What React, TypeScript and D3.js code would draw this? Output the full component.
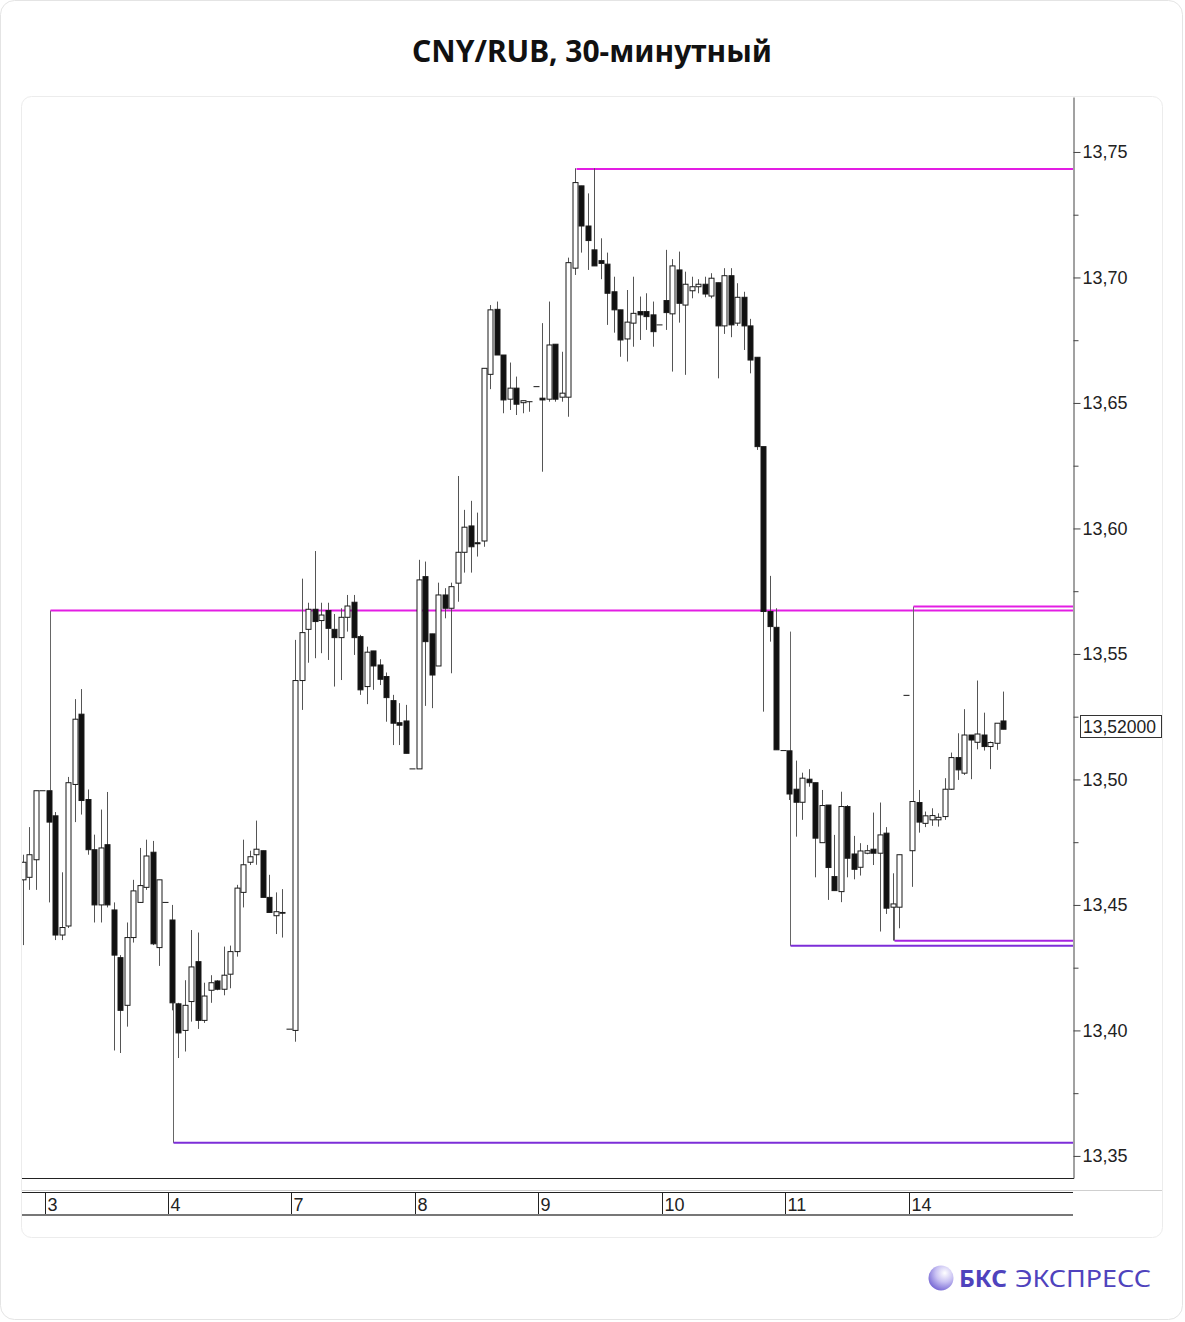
import React, { useEffect, useRef } from 'react';
import * as d3 from 'd3';

// 30-min bars, index 0 = last bars of the previous session
const opens = [
  13.460, 13.461, 13.468, 13.4955, 13.4955, 13.4855, 13.438, 13.4416, 13.498, 13.526,
  13.492, 13.472, 13.450, 13.474, 13.448, 13.429, 13.410, 13.437, 13.451, 13.457,
  13.471, 13.433, 13.451, 13.444, 13.4106, 13.400, 13.4115, 13.4274, 13.404, 13.416,
  13.4197, 13.4164, 13.4224, 13.4314, 13.455, 13.467, 13.470, 13.4716, 13.453, 13.4457,
  13.447, 13.4005, 13.400, 13.5394, 13.5598, 13.5678, 13.5633, 13.5673, 13.5598, 13.5565,
  13.5646, 13.5706, 13.5569, 13.537, 13.5512, 13.5456, 13.541, 13.5314, 13.5226, 13.5233,
  13.5042, 13.5042, 13.5808, 13.558, 13.5452, 13.5735, 13.5682, 13.5782, 13.5905, 13.601,
  13.5943, 13.595, 13.6614, 13.6873, 13.6691, 13.6515, 13.6559, 13.6501, 13.6505, 13.6565,
  13.6519, 13.6515, 13.6734, 13.6523, 13.6523, 13.7037, 13.7365, 13.7205, 13.711, 13.7067,
  13.7053, 13.6943, 13.6871, 13.6755, 13.6818, 13.6864, 13.6864, 13.6851, 13.6811, 13.6908,
  13.6855, 13.703, 13.689, 13.6947, 13.6963, 13.6973, 13.6926, 13.6979, 13.6807, 13.7007,
  13.6818, 13.6921, 13.6807, 13.6682, 13.6326, 13.5669, 13.5606, 13.5115, 13.5114, 13.4961,
  13.4909, 13.5001, 13.4987, 13.4748, 13.4898, 13.4613, 13.4553, 13.4892, 13.4703, 13.465,
  13.4706, 13.4722, 13.4706, 13.4786, 13.4491, 13.4491, 13.5335, 13.4716, 13.4908, 13.4825,
  13.4839, 13.4839, 13.4852, 13.4961, 13.5087, 13.5025, 13.5177, 13.5148, 13.5177, 13.5131,
  13.5144, 13.5233,
];
const highs = [
  13.470, 13.481, 13.4955, 13.4955, 13.4955, 13.487, 13.463, 13.501, 13.532, 13.536,
  13.496, 13.478, 13.488, 13.495, 13.451, 13.430, 13.443, 13.460, 13.4727, 13.476,
  13.4755, 13.460, 13.451, 13.450, 13.411, 13.420, 13.440, 13.439, 13.419, 13.422,
  13.420, 13.4334, 13.4338, 13.458, 13.476, 13.4716, 13.4836, 13.4716, 13.462, 13.455,
  13.4563, 13.4005, 13.5556, 13.580, 13.5704, 13.591, 13.5704, 13.5704, 13.5659, 13.5682,
  13.5735, 13.5735, 13.5576, 13.5529, 13.5512, 13.5479, 13.5426, 13.5337, 13.5304, 13.5297,
  13.5042, 13.5875, 13.5868, 13.558, 13.5784, 13.5762, 13.5784, 13.6209, 13.6074, 13.611,
  13.6063, 13.6638, 13.689, 13.6904, 13.6691, 13.6661, 13.6605, 13.6509, 13.6505, 13.6565,
  13.6818, 13.6904, 13.6734, 13.6704, 13.7079, 13.7435, 13.7365, 13.7335, 13.7435, 13.7156,
  13.7099, 13.7003, 13.6871, 13.695, 13.7003, 13.6924, 13.6937, 13.6904, 13.6811, 13.711,
  13.7073, 13.7103, 13.7023, 13.7003, 13.6993, 13.7003, 13.7017, 13.6979, 13.7037, 13.7037,
  13.6977, 13.6943, 13.6835, 13.6682, 13.6326, 13.5811, 13.5682, 13.5115, 13.5114, 13.5075,
  13.5027, 13.5041, 13.4987, 13.4958, 13.4898, 13.4779, 13.4951, 13.4898, 13.4775, 13.4746,
  13.4739, 13.4868, 13.4908, 13.481, 13.4626, 13.470, 13.5335, 13.4912, 13.4958, 13.4872,
  13.4885, 13.4865, 13.5005, 13.5107, 13.5184, 13.528, 13.5177, 13.5394, 13.5266, 13.5151,
  13.5224, 13.535,
];
const lows = [
  13.434, 13.456, 13.456, 13.4955, 13.451, 13.436, 13.436, 13.4408, 13.483, 13.486,
  13.470, 13.443, 13.443, 13.449, 13.392, 13.391, 13.4015, 13.435, 13.4508, 13.456,
  13.434, 13.4257, 13.451, 13.408, 13.389, 13.3916, 13.4035, 13.4006, 13.403, 13.411,
  13.416, 13.414, 13.4168, 13.4294, 13.449, 13.4659, 13.466, 13.453, 13.447, 13.4384,
  13.437, 13.4005, 13.3955, 13.5277, 13.5465, 13.5483, 13.5503, 13.5476, 13.537, 13.5396,
  13.5589, 13.5496, 13.5337, 13.530, 13.5357, 13.5376, 13.523, 13.5137, 13.5137, 13.5104,
  13.5042, 13.5042, 13.5293, 13.5284, 13.5452, 13.5642, 13.5423, 13.5708, 13.5824, 13.5824,
  13.5888, 13.5927, 13.6555, 13.6691, 13.6459, 13.6472, 13.6452, 13.6459, 13.6465, 13.6565,
  13.6226, 13.6505, 13.6505, 13.6505, 13.6445, 13.701, 13.7099, 13.703, 13.7046, 13.6993,
  13.6811, 13.678, 13.6684, 13.6665, 13.6724, 13.6751, 13.6791, 13.6724, 13.6811, 13.6791,
  13.6625, 13.682, 13.6612, 13.6917, 13.6937, 13.6921, 13.6917, 13.6598, 13.6775, 13.6762,
  13.6807, 13.6711, 13.6618, 13.6313, 13.527, 13.5549, 13.5118, 13.5115, 13.4918, 13.4772,
  13.4839, 13.4971, 13.461, 13.4748, 13.452, 13.4557, 13.4511, 13.461, 13.4602, 13.4617,
  13.4702, 13.4659, 13.4394, 13.4464, 13.4358, 13.4407, 13.5335, 13.4572, 13.4788, 13.481,
  13.4815, 13.4812, 13.4839, 13.4958, 13.4998, 13.5018, 13.5001, 13.512, 13.5115, 13.5041,
  13.5118, 13.520,
];
const closes = [
  13.467, 13.470, 13.4955, 13.4955, 13.483, 13.438, 13.441, 13.4987, 13.524, 13.4916,
  13.472, 13.450, 13.4727, 13.450, 13.430, 13.408, 13.437, 13.4556, 13.4577, 13.4695,
  13.4345, 13.460, 13.451, 13.411, 13.399, 13.410, 13.4253, 13.404, 13.4137, 13.419,
  13.4164, 13.422, 13.4314, 13.4567, 13.466, 13.4692, 13.4722, 13.453, 13.447, 13.4473,
  13.4467, 13.4005, 13.5394, 13.5585, 13.5678, 13.5629, 13.5655, 13.5602, 13.5565, 13.5646,
  13.5691, 13.5565, 13.5357, 13.5507, 13.5452, 13.5399, 13.5326, 13.5224, 13.5216, 13.5104,
  13.5042, 13.5795, 13.5549, 13.5416, 13.5735, 13.5682, 13.5768, 13.5905, 13.6005, 13.5927,
  13.5939, 13.6638, 13.6871, 13.6691, 13.6512, 13.6559, 13.6495, 13.6509, 13.6505, 13.6565,
  13.6512, 13.6731, 13.6515, 13.6539, 13.7059, 13.7378, 13.7205, 13.7147, 13.7046, 13.7056,
  13.6937, 13.6871, 13.6751, 13.6822, 13.6857, 13.6851, 13.6844, 13.6784, 13.6811, 13.686,
  13.7046, 13.6897, 13.6973, 13.6963, 13.6973, 13.6934, 13.6997, 13.6807, 13.7007, 13.6811,
  13.6921, 13.6807, 13.6671, 13.6326, 13.5669, 13.5609, 13.5118, 13.5115, 13.4942, 13.4909,
  13.5005, 13.4987, 13.4766, 13.4896, 13.4649, 13.4557, 13.4892, 13.4686, 13.4642, 13.4715,
  13.4716, 13.4706, 13.4779, 13.4487, 13.4504, 13.470, 13.5335, 13.4912, 13.483, 13.4855,
  13.4856, 13.4849, 13.4961, 13.5087, 13.5038, 13.5177, 13.5157, 13.5181, 13.5131, 13.5147,
  13.5224, 13.520,
];

// sessions: label and index of the opening bar
const dayLabels = ['3', '4', '7', '8', '9', '10', '11', '14'];
const dayFirstBar = [3, 22, 41, 60, 79, 98, 117, 136];

// horizontal levels drawn on the chart
const levelPrice = [13.7432, 13.5673, 13.5689, 13.3552, 13.4337, 13.4357];
const levelFromBar = [85, 4, 137, 23, 118, 134];
const levelAnchor = [13.7432, 13.4955, 13.4912, 13.411, 13.5589, 13.450];
const levelKind = ['high', 'high', 'high', 'low', 'low', 'low2'];

const majorTicks = [13.35, 13.40, 13.45, 13.50, 13.55, 13.60, 13.65, 13.70, 13.75];
const minorTicks = [13.375, 13.425, 13.475, 13.525, 13.575, 13.625, 13.675, 13.725];
const lastPrice = 13.52;

const W = 1185;
const H = 1322;

export default function App() {
  const svgRef = useRef<SVGSVGElement | null>(null);

  useEffect(() => {
    document.body.style.margin = '0';
    const svg = d3.select(svgRef.current);
    svg.selectAll('*').remove();

    const left = 22, right = 1073, top = 97, bottom = 1178;
    const locale = d3.formatLocale({ decimal: ',', thousands: ' ', grouping: [3], currency: ['', ''] });
    const fmt2 = locale.format('.2f');
    const fmt5 = locale.format('.5f');

    const x = d3.scaleLinear().domain([-0.092, 161.72]).range([left, right]);
    const y = d3.scaleLinear().domain([13.3412, 13.7719]).range([bottom, top]);

    // card + panel
    svg.append('rect')
      .attr('x', 0.5).attr('y', 0.5).attr('width', 1182).attr('height', 1319)
      .attr('rx', 14).attr('fill', '#fff').attr('stroke', '#e4e4e4');
    svg.append('rect')
      .attr('x', 21.5).attr('y', 96.5).attr('width', 1141).attr('height', 1141)
      .attr('rx', 10).attr('fill', '#fff').attr('stroke', '#ececec');

    svg.append('text')
      .attr('x', 592).attr('y', 62)
      .attr('text-anchor', 'middle')
      .style('font-family', '"Noto Sans", "Open Sans", sans-serif')
      .style('font-size', '30px')
      .style('font-weight', 700)
      .style('fill', '#111')
      .text('CNY/RUB, 30-минутный');

    svg.append('clipPath').attr('id', 'plotClip')
      .append('rect').attr('x', left).attr('y', top).attr('width', right - left).attr('height', bottom - top);

    const plot = svg.append('g').attr('clip-path', 'url(#plotClip)');

    const bars = d3.range(opens.length).map(i => ({
      i, o: opens[i], h: Math.max(highs[i], opens[i], closes[i]),
      l: Math.min(lows[i], opens[i], closes[i]), c: closes[i],
    }));

    const cx = (i: number) => Math.round(x(i)) + 0.5;

    // levels
    const levelColor: Record<string, string> = { high: '#e31de3', low: '#7d2ed8', low2: '#a523e0' };
    levelPrice.forEach((p, k) => {
      const x0 = cx(levelFromBar[k]) + 1;
      plot.append('line')
        .attr('x1', x0).attr('x2', x0)
        .attr('y1', y(p)).attr('y2', y(levelAnchor[k]))
        .attr('stroke', '#666').attr('stroke-width', 1);
      plot.append('line')
        .attr('x1', x0).attr('x2', right)
        .attr('y1', y(p)).attr('y2', y(p))
        .attr('stroke', levelColor[levelKind[k]]).attr('stroke-width', 2);
    });

    // wicks
    plot.selectAll('.wick')
      .data(bars.filter(d => d.h !== d.l))
      .join('line')
      .attr('class', 'wick')
      .attr('x1', d => cx(d.i)).attr('x2', d => cx(d.i))
      .attr('y1', d => y(d.h)).attr('y2', d => y(d.l))
      .attr('stroke', '#555').attr('stroke-width', 1);

    // bodies
    plot.selectAll('.body')
      .data(bars)
      .join('rect')
      .attr('class', 'body')
      .attr('x', d => cx(d.i) - 2.5)
      .attr('width', 5)
      .attr('y', d => y(Math.max(d.o, d.c)))
      .attr('height', d => Math.max(0.01, Math.abs(y(d.o) - y(d.c))))
      .attr('fill', d => (d.c >= d.o ? '#fff' : '#111'))
      .attr('stroke', '#1a1a1a')
      .attr('stroke-width', 1);

    // frame
    svg.append('line').attr('x1', left).attr('x2', right + 1).attr('y1', bottom + 0.5).attr('y2', bottom + 0.5)
      .attr('stroke', '#222');

    // price axis
    const axis = svg.append('g')
      .attr('transform', `translate(${right + 0.5},0)`)
      .call(d3.axisRight(y).tickValues(majorTicks).tickSize(7).tickSizeOuter(0).tickPadding(2)
        .tickFormat(d => fmt2(d as number)));
    axis.select('.domain').attr('stroke', '#444');
    axis.selectAll('.tick line').attr('stroke', '#444');
    axis.selectAll('.tick text')
      .style('font-family', '"Liberation Sans", Arial, sans-serif')
      .style('font-size', '18px')
      .style('fill', '#222');

    svg.append('g')
      .attr('transform', `translate(${right + 0.5},0)`)
      .call(d3.axisRight(y).tickValues(minorTicks).tickSize(5).tickSizeOuter(0).tickFormat(() => ''))
      .call(g => g.select('.domain').remove())
      .call(g => g.selectAll('.tick line').attr('stroke', '#444'));

    const ly = Math.round(y(lastPrice)) - 3;
    svg.append('rect')
      .attr('x', 1080.5).attr('y', ly - 10.5).attr('width', 81).attr('height', 22)
      .attr('fill', '#fff').attr('stroke', '#333');
    svg.append('text')
      .attr('x', 1083).attr('y', ly + 6.5)
      .style('font-family', '"Liberation Sans", Arial, sans-serif')
      .style('font-size', '17.5px')
      .style('fill', '#222')
      .text(fmt5(lastPrice));

    // date strip
    svg.append('line').attr('x1', left).attr('x2', 1162).attr('y1', 1190.5).attr('y2', 1190.5)
      .attr('stroke', '#cfcfcf');
    svg.append('line').attr('x1', left).attr('x2', right).attr('y1', 1192.5).attr('y2', 1192.5)
      .attr('stroke', '#222');
    svg.append('line').attr('x1', left).attr('x2', right).attr('y1', 1215).attr('y2', 1215)
      .attr('stroke', '#777').attr('stroke-width', 2);

    const days = svg.append('g');
    dayFirstBar.forEach((b, k) => {
      const dx = Math.round(x(b + 0.4)) + 0.5;
      days.append('line').attr('x1', dx).attr('x2', dx).attr('y1', 1193).attr('y2', 1214)
        .attr('stroke', '#222');
      days.append('text')
        .attr('x', dx + 2).attr('y', 1211)
        .style('font-family', '"Liberation Sans Narrow", "Arial Narrow", "Liberation Sans", sans-serif')
        .style('font-size', '18px')
        .style('fill', '#222')
        .text(dayLabels[k]);
    });

    // logo
    const defs = svg.append('defs');
    const grad = defs.append('radialGradient').attr('id', 'logoGrad')
      .attr('cx', '0.65').attr('cy', '0.3').attr('r', '0.8');
    grad.append('stop').attr('offset', '0%').attr('stop-color', '#ffffff');
    grad.append('stop').attr('offset', '45%').attr('stop-color', '#c9c2f3');
    grad.append('stop').attr('offset', '100%').attr('stop-color', '#6b5bd0');
    svg.append('circle').attr('cx', 941).attr('cy', 1278).attr('r', 12.5).attr('fill', 'url(#logoGrad)');
    svg.append('text')
      .attr('x', 959).attr('y', 1287)
      .attr('textLength', 48).attr('lengthAdjust', 'spacingAndGlyphs')
      .style('font-family', '"Noto Sans", Inter, sans-serif')
      .style('font-size', '24px').style('font-weight', 700)
      .style('fill', '#4f43bd')
      .text('БКС');
    svg.append('text')
      .attr('x', 1015).attr('y', 1287)
      .attr('textLength', 136).attr('lengthAdjust', 'spacingAndGlyphs')
      .style('font-family', '"Noto Sans", Inter, sans-serif')
      .style('font-size', '24px').style('font-weight', 400)
      .style('fill', '#4f43bd')
      .text('ЭКСПРЕСС');
  }, []);

  return <svg ref={svgRef} width={W} height={H} style={{ display: 'block' }} />;
}
